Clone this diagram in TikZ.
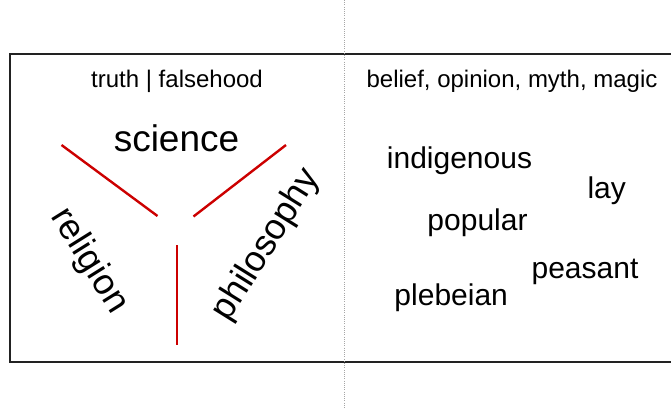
\documentclass[tikz,border=0pt]{standalone}
\usepackage{fontspec}
\setmainfont{Liberation Sans}
\definecolor{dividerred}{HTML}{CC0000}
\definecolor{framegray}{HTML}{222222}
\begin{document}
\begin{tikzpicture}[x=1pt,y=-1pt,
  framestyle/.style={draw=framegray,line width=2pt},
  divider/.style={draw=dividerred,line width=2.4pt},
  heading/.style={font=\fontsize{24}{28}\selectfont,anchor=base,inner sep=0pt},
  bigword/.style={font=\fontsize{37}{42}\selectfont,anchor=base,inner sep=0pt},
  word/.style={font=\fontsize{30}{36}\selectfont,anchor=base,inner sep=0pt},
  sideword/.style={font=\fontsize{36}{42}\selectfont,anchor=center,inner sep=0pt}]
\useasboundingbox (0,0) rectangle (671,408);

% open frame running off the right edge
\draw[framestyle] (673,53.5) -- (10,53.5) -- (10,361.5) -- (673,361.5);

% dotted separator between the two halves
\draw[gray!70,line width=0.8pt,dash pattern=on 1pt off 1.2pt] (344,0) -- (344,408);

% left half
\node[heading] (tf) at (177,87) {truth | falsehood};
\node[bigword] (sci) at (176.5,151.5) {science};
\node[sideword,rotate=-58] (rel) at (89,261) {religion};
\node[sideword,rotate=58] (phil) at (266.5,245) {philosophy};

\coordinate (a1) at (61.5,145);
\coordinate (a2) at (157.5,216);
\coordinate (b1) at (286,145);
\coordinate (b2) at (193.5,216.5);
\coordinate (c1) at (176.7,245);
\coordinate (c2) at (176.7,345);
\draw[divider] (a1) -- (a2);
\draw[divider] (b1) -- (b2);
\draw[divider] (c1) -- (c2);

% right half
\node[heading] (bom) at (512,87.3) {belief, opinion, myth, magic};
\node[word] (ind) at (459.5,168.3) {indigenous};
\node[word] (lay) at (606.7,198.3) {lay};
\node[word] (pop) at (477.5,230) {popular};
\node[word] (pea) at (585,278.3) {peasant};
\node[word] (ple) at (451.2,305) {plebeian};
\end{tikzpicture}
\end{document}
